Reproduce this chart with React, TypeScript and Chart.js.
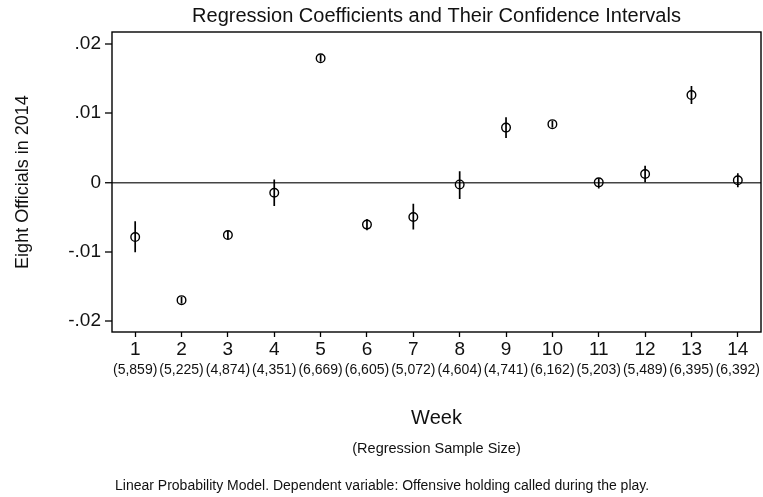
import React, { useEffect, useRef } from "react";
import { Chart, registerables } from "chart.js";

Chart.register(...registerables);

const weeks = [1, 2, 3, 4, 5, 6, 7, 8, 9, 10, 11, 12, 13, 14];
const sampleSizes = [
  "(5,859)", "(5,225)", "(4,874)", "(4,351)", "(6,669)", "(6,605)", "(5,072)",
  "(4,604)", "(4,741)", "(6,162)", "(5,203)", "(5,489)", "(6,395)", "(6,392)",
];
const coefficients = [
  -0.0079, -0.0170, -0.0076, -0.0015, 0.0179, -0.0061, -0.0050,
  -0.0003, 0.0079, 0.0084, 0.0000, 0.0012, 0.0126, 0.0003,
];
const ciLower = [
  -0.0101, -0.0175, -0.0082, -0.0034, 0.0174, -0.0069, -0.0068,
  -0.0024, 0.0064, 0.0079, -0.0009, 0.0000, 0.0113, -0.0007,
];
const ciUpper = [
  -0.0056, -0.0165, -0.0070, 0.0004, 0.0184, -0.0053, -0.0031,
  0.0016, 0.0094, 0.0089, 0.0006, 0.0024, 0.0139, 0.0013,
];
const yTickValues = [-0.02, -0.01, 0, 0.01, 0.02];

const chartTitle = "Regression Coefficients and Their Confidence Intervals";
const yAxisTitle = "Eight Officials in 2014";
const xAxisTitle = "Week";
const xAxisSubtitle = "(Regression Sample Size)";
const footnote =
  "Linear Probability Model. Dependent variable: Offensive holding called during the play.";

const FONT = "'Liberation Sans', Arial, Helvetica, sans-serif";
const INK = "#111";

const formatY = (v: number) => {
  if (Math.abs(v) < 1e-12) return "0";
  const s = Math.abs(v).toFixed(2).replace(/^0/, "");
  return (v < 0 ? "-" : "") + s;
};

const annotate = {
  id: "annotate",
  afterDraw(chart: any) {
    const { ctx, chartArea } = chart;
    const cx = (chartArea.left + chartArea.right) / 2;
    ctx.save();
    ctx.strokeStyle = "#000";
    ctx.lineWidth = 1.4;
    ctx.strokeRect(chartArea.left, chartArea.top, chartArea.right - chartArea.left, chartArea.bottom - chartArea.top);
    ctx.fillStyle = INK;
    ctx.textBaseline = "middle";
    ctx.textAlign = "center";
    ctx.font = `20px ${FONT}`;
    ctx.fillText(xAxisTitle, cx, chartArea.bottom + 86);
    ctx.font = `14.5px ${FONT}`;
    ctx.fillText(xAxisSubtitle, cx, chartArea.bottom + 117);
    ctx.textAlign = "left";
    ctx.font = `14px ${FONT}`;
    ctx.fillText(footnote, chartArea.left + 3, chartArea.bottom + 154);
    ctx.restore();
  },
};

export default function App() {
  const canvasRef = useRef<HTMLCanvasElement | null>(null);

  useEffect(() => {
    const canvas = canvasRef.current;
    if (!canvas) return;

    const pointData = weeks.map((w, i) => ({ x: w, y: coefficients[i] }));
    const ciData: any[] = [];
    weeks.forEach((w, i) => {
      ciData.push({ x: w, y: ciLower[i] });
      ciData.push({ x: w, y: ciUpper[i] });
      ciData.push({ x: w, y: null });
    });

    const chart = new Chart(canvas, {
      type: "scatter",
      data: {
        datasets: [
          {
            label: "Coefficient",
            data: pointData,
            pointStyle: "circle",
            pointRadius: 4.3,
            pointBorderWidth: 1.4,
            pointBorderColor: "#000",
            pointBackgroundColor: "rgba(0,0,0,0)",
            showLine: false,
            order: 0,
          } as any,
          {
            label: "95% CI",
            data: ciData,
            showLine: true,
            spanGaps: false,
            borderColor: "#000",
            borderWidth: 1.7,
            pointRadius: 0,
            pointHoverRadius: 0,
            order: 1,
          } as any,
        ],
      },
      options: {
        responsive: false,
        animation: false,
        devicePixelRatio: 1,
        layout: { autoPadding: false, padding: { left: 0, right: 2, top: 0, bottom: 118 } },
        plugins: {
          legend: { display: false },
          tooltip: { enabled: false },
          title: {
            display: true,
            text: chartTitle,
            fullSize: false,
            color: INK,
            font: { family: FONT, size: 20, weight: "normal" },
            padding: { top: 4, bottom: 4 },
          } as any,
        },
        scales: {
          x: {
            type: "linear",
            position: "bottom",
            min: 0.5,
            max: 14.5,
            weight: 0,
            afterBuildTicks: (scale: any) => {
              scale.ticks = weeks.map((v) => ({ value: v }));
            },
            afterFit: (scale: any) => {
              scale.height = 29;
              scale.paddingLeft = 0;
              scale.paddingRight = 0;
            },
            ticks: {
              autoSkip: false,
              maxRotation: 0,
              padding: 1,
              color: INK,
              font: { family: FONT, size: 19 },
              callback: (v: any) => String(v),
            },
            grid: { display: true, drawOnChartArea: false, drawTicks: true, tickLength: 5, tickColor: "#000", tickWidth: 1.3 },
            border: { display: false },
          },
          x2: {
            type: "linear",
            position: "bottom",
            min: 0.5,
            max: 14.5,
            weight: 1,
            afterBuildTicks: (scale: any) => {
              scale.ticks = weeks.map((v) => ({ value: v }));
            },
            afterFit: (scale: any) => {
              scale.height = 18;
              scale.paddingLeft = 0;
              scale.paddingRight = 0;
            },
            ticks: {
              autoSkip: false,
              maxRotation: 0,
              minRotation: 0,
              padding: 1,
              color: INK,
              font: { family: FONT, size: 14 },
              callback: (_v: any, i: number) => sampleSizes[i],
            },
            grid: { display: false, drawTicks: false, tickLength: 0 },
            border: { display: false },
          },
          y: {
            type: "linear",
            position: "left",
            min: -0.0216,
            max: 0.0217,
            afterFit: (scale: any) => {
              scale.width = 112;
            },
            afterBuildTicks: (scale: any) => {
              scale.ticks = yTickValues.map((v) => ({ value: v }));
            },
            ticks: {
              padding: 4,
              color: INK,
              font: { family: FONT, size: 19 },
              callback: (v: any) => formatY(Number(v)),
            },
            grid: {
              display: true,
              drawOnChartArea: true,
              drawTicks: true,
              tickLength: 7,
              tickColor: "#000",
              tickWidth: 1.3,
              color: (c: any) => (c.tick && Math.abs(c.tick.value) < 1e-12 ? "#444" : "rgba(0,0,0,0)"),
              lineWidth: (c: any) => (c.tick && Math.abs(c.tick.value) < 1e-12 ? 1.5 : 0),
            },
            border: { display: false },
            title: {
              display: true,
              text: yAxisTitle,
              color: INK,
              font: { family: FONT, size: 18 },
              padding: { top: 12, bottom: 0 },
            },
          },
        },
      },
      plugins: [annotate],
    });

    return () => chart.destroy();
  }, []);

  return (
    <div style={{ position: "absolute", left: 0, top: 0, width: 763, height: 497, background: "#fff" }}>
      <canvas ref={canvasRef} width={763} height={497} style={{ display: "block", width: 763, height: 497 }} />
    </div>
  );
}
